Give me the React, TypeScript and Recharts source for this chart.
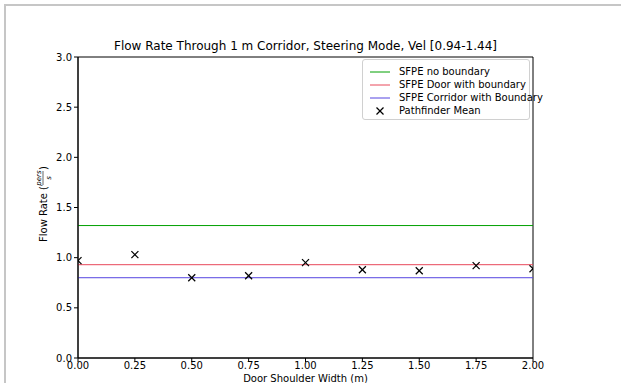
import {
  ScatterChart,
  Scatter,
  XAxis,
  YAxis,
  ReferenceLine,
  ReferenceArea,
} from 'recharts';

// Pathfinder mean flow rate per door shoulder width
const shoulderWidths = [0, 0.25, 0.5, 0.75, 1.0, 1.25, 1.5, 1.75, 2.0];
const pathfinderMean = [0.97, 1.03, 0.8, 0.82, 0.95, 0.88, 0.87, 0.92, 0.89];

// SFPE reference flow rates (constant)
const sfpeNoBoundary = 1.32;
const sfpeDoorWithBoundary = 0.93;
const sfpeCorridorWithBoundary = 0.8;

const xTicks = [0, 0.25, 0.5, 0.75, 1.0, 1.25, 1.5, 1.75, 2.0];
const yTicks = [0, 0.5, 1.0, 1.5, 2.0, 2.5, 3.0];

const legendItems = [
  { name: 'SFPE no boundary', color: '#00a000', kind: 'line' },
  { name: 'SFPE Door with boundary', color: '#e8485a', kind: 'line' },
  { name: 'SFPE Corridor with Boundary', color: '#5545e0', kind: 'line' },
  { name: 'Pathfinder Mean', color: '#000', kind: 'cross' },
];

const FONT = '"DejaVu Sans", sans-serif';

const points = shoulderWidths.map((x, i) => ({ x, y: pathfinderMean[i] }));

const Cross = (props: any) => {
  const { cx, cy } = props;
  const r = 3.5;
  return (
    <g stroke="#000" strokeWidth={1.2}>
      <line x1={cx - r} y1={cy - r} x2={cx + r} y2={cy + r} />
      <line x1={cx - r} y1={cy + r} x2={cx + r} y2={cy - r} />
    </g>
  );
};

const LegendBox = () => (
  <div
    style={{
      position: 'absolute',
      left: 362,
      top: 59,
      border: '1px solid #d0d0d0',
      borderRadius: 3,
      background: 'rgba(255,255,255,0.8)',
      padding: '5px 0 2px 0',
      fontFamily: FONT,
      fontSize: 10,
      color: '#000',
      width: 166,
    }}
  >
    {legendItems.map((item) => (
      <div key={item.name} style={{ display: 'flex', alignItems: 'center', height: 13 }}>
        <svg width={20} height={10} style={{ marginRight: 9, marginLeft: 7, flexShrink: 0 }}>
          {item.kind === 'line' ? (
            <line x1={0} y1={5} x2={20} y2={5} stroke={item.color} strokeWidth={1} />
          ) : (
            <g stroke="#000" strokeWidth={1.2}>
              <line x1={6.5} y1={1.5} x2={13.5} y2={8.5} />
              <line x1={6.5} y1={8.5} x2={13.5} y2={1.5} />
            </g>
          )}
        </svg>
        <span style={{ whiteSpace: 'nowrap' }}>{item.name}</span>
      </div>
    ))}
  </div>
);

const YLabel = () => (
  <g transform="translate(43, 202) rotate(-90)" fontFamily={FONT} fill="#000">
    <text x={-40} y={4} fontSize={10}>
      Flow Rate (
    </text>
    <text x={24} y={-2.5} fontSize={7} fontStyle="italic" textAnchor="middle">
      pers
    </text>
    <line x1={17} y1={0} x2={31} y2={0} stroke="#000" strokeWidth={0.6} />
    <text x={24} y={7.5} fontSize={7} fontStyle="italic" textAnchor="middle">
      s
    </text>
    <text x={32} y={4} fontSize={10}>
      )
    </text>
  </g>
);

export default function App() {
  return (
    <div
      style={{
        position: 'absolute',
        left: 0,
        top: 0,
        width: 621,
        height: 383,
        background: '#fff',
        overflow: 'hidden',
      }}
    >
      <div
        style={{
          position: 'absolute',
          left: 4,
          top: 4,
          width: 617,
          height: 379,
          borderTop: '2px solid #c6c6c6',
          borderLeft: '2px solid #c6c6c6',
        }}
      />
      <div
        style={{
          position: 'absolute',
          left: 0,
          width: 611,
          top: 39,
          textAlign: 'center',
          fontFamily: FONT,
          fontSize: 12,
          color: '#000',
        }}
      >
        Flow Rate Through 1 m Corridor, Steering Mode, Vel [0.94-1.44]
      </div>
      <div
        style={{
          position: 'absolute',
          left: 0,
          width: 611,
          top: 373,
          textAlign: 'center',
          fontFamily: FONT,
          fontSize: 10,
          color: '#000',
        }}
      >
        Door Shoulder Width (m)
      </div>
      <ScatterChart
        width={621}
        height={383}
        margin={{ top: 57, right: 88, bottom: 0, left: 0 }}
        style={{ position: 'absolute', left: 0, top: 0 }}
      >
        <XAxis
          type="number"
          dataKey="x"
          domain={[0, 2]}
          ticks={xTicks}
          tickFormatter={(v: number) => v.toFixed(2)}
          height={25}
          tickSize={4}
          tickMargin={0}
          stroke="#000"
          tick={{ fontSize: 10, fontFamily: FONT, fill: '#000' }}
          allowDataOverflow
        />
        <YAxis
          type="number"
          dataKey="y"
          domain={[0, 3]}
          ticks={yTicks}
          tickFormatter={(v: number) => v.toFixed(1)}
          width={78}
          tickSize={4}
          tickMargin={2}
          stroke="#000"
          tick={{ fontSize: 10, fontFamily: FONT, fill: '#000' }}
          allowDataOverflow
        />
        <ReferenceArea
          x1={0}
          x2={2}
          y1={0}
          y2={3}
          fill="none"
          stroke="#000"
          strokeWidth={1}
          ifOverflow="visible"
        />
        <ReferenceLine y={sfpeNoBoundary} stroke={legendItems[0].color} strokeWidth={1} />
        <ReferenceLine y={sfpeDoorWithBoundary} stroke={legendItems[1].color} strokeWidth={1} />
        <ReferenceLine y={sfpeCorridorWithBoundary} stroke={legendItems[2].color} strokeWidth={1} />
        <Scatter
          name="Pathfinder Mean"
          data={points}
          shape={<Cross />}
          isAnimationActive={false}
        />
        <YLabel />
      </ScatterChart>
      <LegendBox />
    </div>
  );
}
